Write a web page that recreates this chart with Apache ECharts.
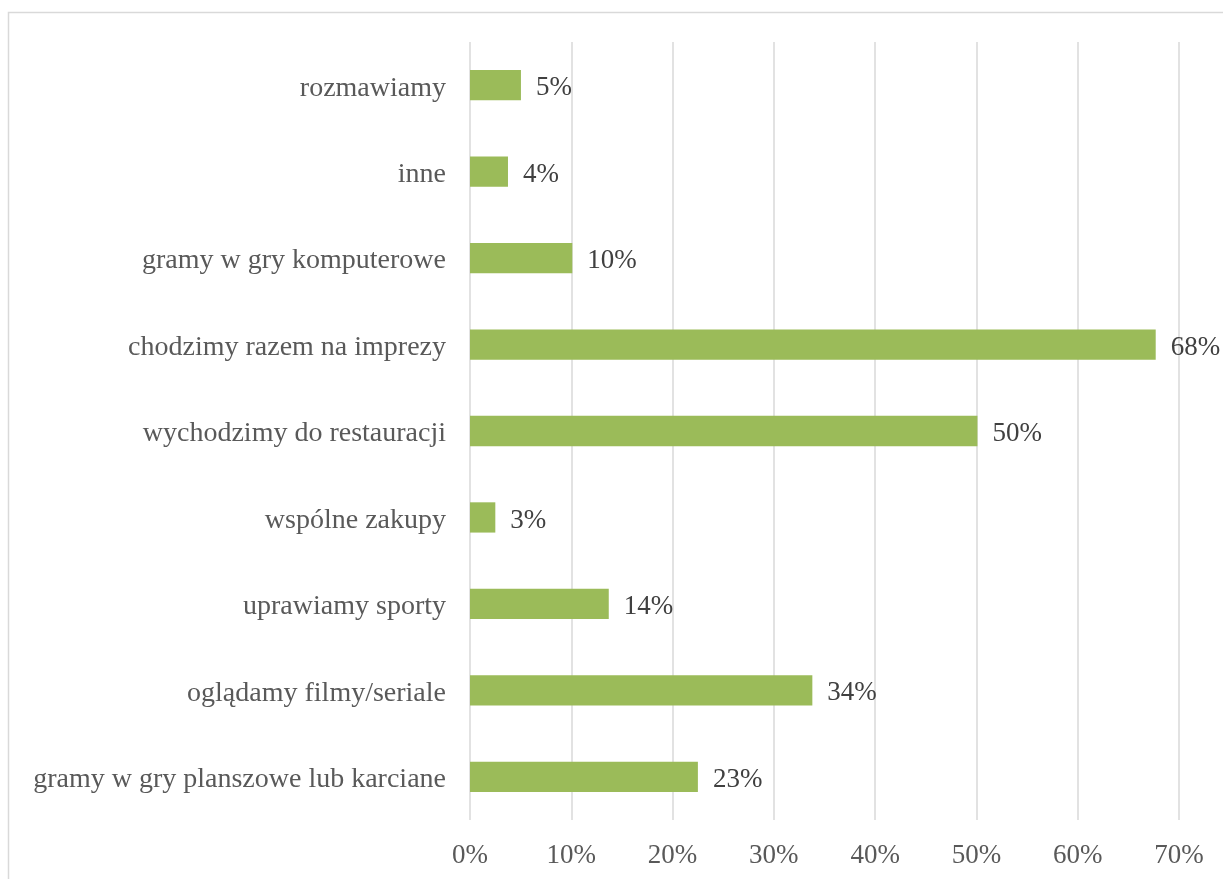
<!DOCTYPE html>
<html>
<head>
<meta charset="utf-8">
<script src="https://cdn.jsdelivr.net/npm/echarts@6/dist/echarts.min.js"></script>
<style>
  html, body { margin: 0; padding: 0; background: #fff; }
  #chart { width: 1223px; height: 879px; }
</style>
</head>
<body>
<div id="chart"></div>
<script>
// Activities, listed bottom-to-top as drawn on the category axis
const categories = [
  'gramy w gry planszowe lub karciane',
  'oglądamy filmy/seriale',
  'uprawiamy sporty',
  'wspólne zakupy',
  'wychodzimy do restauracji',
  'chodzimy razem na imprezy',
  'gramy w gry komputerowe',
  'inne',
  'rozmawiamy'
];
// Share of respondents (fraction)
const shares = [0.225, 0.338, 0.137, 0.025, 0.501, 0.677, 0.101, 0.0375, 0.0503];
// Value axis ticks
const axisMin = 0;
const axisMax = 0.7;
const axisStep = 0.1;

const font = '"Liberation Serif", "Times New Roman", serif';
const pct = v => Math.round(v * 100) + '%';

const chart = echarts.init(document.getElementById('chart'), null, { renderer: 'canvas' });
chart.setOption({
  animation: false,
  backgroundColor: '#ffffff',
  graphic: [{
    type: 'rect',
    shape: { x: 8.5, y: 12.5, width: 1400, height: 1000 },
    style: { fill: 'none', stroke: '#d9d9d9', lineWidth: 1.5 },
    silent: true
  }],
  grid: { left: 470, right: 44, top: 42, bottom: 59, containLabel: false },
  xAxis: {
    type: 'value',
    min: axisMin,
    max: axisMax,
    interval: axisStep,
    axisLine: { show: false },
    axisTick: { show: false },
    splitLine: { show: true, lineStyle: { color: '#d9d9d9', width: 1.5 } },
    axisLabel: {
      formatter: v => pct(v),
      color: '#595959',
      fontFamily: font,
      fontSize: 27,
      margin: 22
    }
  },
  yAxis: {
    type: 'category',
    data: categories,
    axisLine: { show: false },
    axisTick: { show: false },
    axisLabel: {
      margin: 24,
      // nudge the text a few pixels down so it sits level with the bar centre
      formatter: v => '{c|' + v + '}',
      rich: {
        c: {
          color: '#595959',
          fontFamily: font,
          fontSize: 28,
          padding: [6, 0, 0, 0]
        }
      }
    }
  },
  series: [{
    type: 'bar',
    data: shares,
    barWidth: '35%',
    itemStyle: { color: '#9bbb59' },
    label: {
      show: true,
      position: 'right',
      distance: 15,
      offset: [0, 3],
      formatter: p => pct(p.value),
      color: '#404040',
      fontFamily: font,
      fontSize: 27
    }
  }]
});
</script>
</body>
</html>
